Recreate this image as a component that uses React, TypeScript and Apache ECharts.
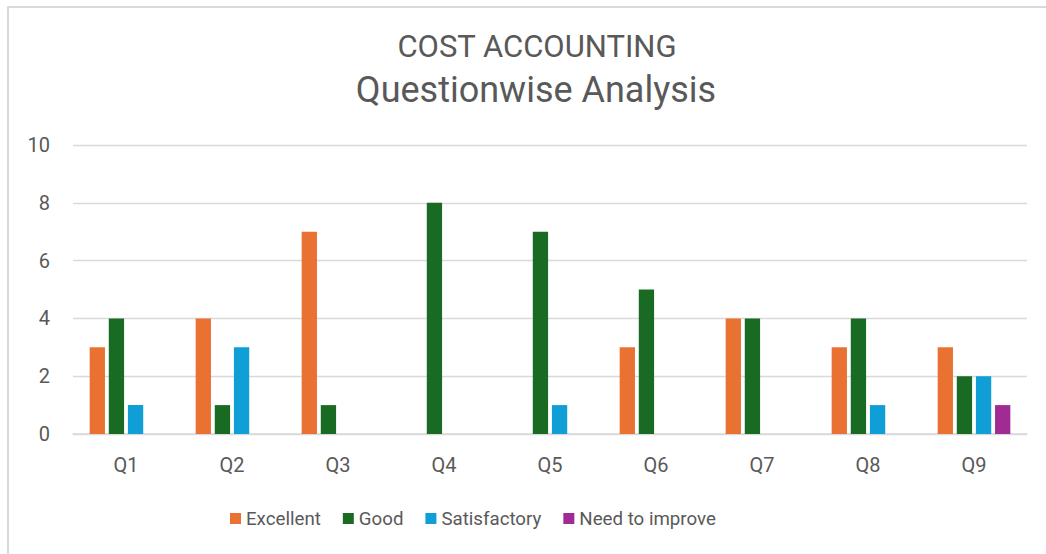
import React, { useEffect, useRef } from "react";
import * as echarts from "echarts";

const categories = ["Q1", "Q2", "Q3", "Q4", "Q5", "Q6", "Q7", "Q8", "Q9"];
const excellent = [3, 4, 7, 0, 0, 3, 4, 3, 3];
const good = [4, 1, 1, 8, 7, 5, 4, 4, 2];
const satisfactory = [1, 3, 0, 0, 1, 0, 0, 1, 2];
const needToImprove = [0, 0, 0, 0, 0, 0, 0, 0, 1];
const seriesNames = ["Excellent", "Good", "Satisfactory", "Need to improve"];
const seriesColors = ["#E97132", "#196B24", "#0F9ED5", "#A02B93"];

const FONT = "Roboto, 'Liberation Sans', sans-serif";
const TEXT = "#595959";

export default function App() {
  const ref = useRef<HTMLDivElement>(null);
  useEffect(() => {
    if (!ref.current) return;
    const chart = echarts.init(ref.current, null, { renderer: "svg" });
    const data = [excellent, good, satisfactory, needToImprove];
    chart.setOption({
      animation: false,
      backgroundColor: "#ffffff",
      textStyle: { fontFamily: FONT, color: TEXT },
      title: [
        {
          text: "COST ACCOUNTING",
          left: 532,
          top: 26,
          textAlign: "center",
          textStyle: { fontFamily: FONT, fontSize: 31, fontWeight: "normal", color: TEXT },
        },
        {
          text: "Questionwise Analysis",
          left: 531,
          top: 67,
          textAlign: "center",
          textStyle: { fontFamily: FONT, fontSize: 36, fontWeight: "normal", color: TEXT },
        },
      ],
      graphic: [
        {
          type: "rect",
          shape: { x: 8, y: 7, width: 1100, height: 600 },
          style: { fill: "none", stroke: "#d9d9d9", lineWidth: 2 },
          silent: true,
        },
      ],
      legend: {
        left: 225,
        top: 504,
        itemWidth: 11,
        itemHeight: 11,
        itemGap: 22,
        icon: "rect",
        data: seriesNames,
        textStyle: { fontFamily: FONT, fontSize: 18.7, color: TEXT },
      },
      grid: { left: 73, right: 19, top: 145, bottom: 120, containLabel: false },
      xAxis: {
        type: "category",
        data: categories,
        axisLine: { lineStyle: { color: "#d9d9d9", width: 1.5 } },
        axisTick: { show: false },
        axisLabel: { fontFamily: FONT, fontSize: 20, color: TEXT, margin: 21 },
      },
      yAxis: {
        type: "value",
        min: 0,
        max: 10,
        interval: 2,
        axisLine: { show: false },
        axisTick: { show: false },
        axisLabel: { fontFamily: FONT, fontSize: 20, color: TEXT, margin: 23 },
        splitLine: { lineStyle: { color: "#d9d9d9", width: 1.3 } },
      },
      series: seriesNames.map((name, i) => ({
        name,
        type: "bar",
        data: data[i],
        barWidth: 15.3,
        barGap: "25%",
        itemStyle: { color: seriesColors[i] },
      })),
    });
    return () => chart.dispose();
  }, []);
  return (
    <div
      ref={ref}
      style={{ position: "fixed", left: 0, top: 0, width: 1046, height: 554 }}
    />
  );
}
